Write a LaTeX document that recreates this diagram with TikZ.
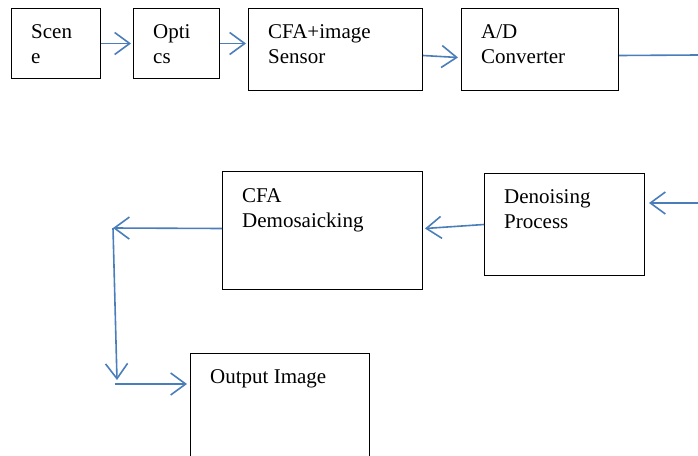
\documentclass[tikz,border=0pt]{standalone}
\usepackage{fontspec}
\setmainfont{Liberation Serif}
\usepackage{xcolor}
\usetikzlibrary{arrows.meta}
\definecolor{flowblue}{RGB}{74,126,187}

\begin{document}
\begin{tikzpicture}[x=1pt,y=-1pt,
		box/.style={draw,line width=1pt,anchor=north west,inner sep=0pt},
		txt/.style={anchor=north west,inner sep=0pt,align=left,font=\fontsize{21}{25}\selectfont},
		flow/.style={draw=flowblue,line width=1.6pt,-{Straight Barb[length=15pt,width=22pt,line width=1.6pt]}},
		link/.style={draw=flowblue,line width=1.6pt}]
		\clip (0,0) rectangle (698,455);
		\node[box,minimum width=89,minimum height=70] (scene) at (11,8) {};
		\node[txt] (sceneT) at ([shift={(20,12.5)}]scene.north west) {\strut Scen\\e};
		\node[box,minimum width=86,minimum height=70] (optics) at (133,8) {};
		\node[txt] (opticsT) at ([shift={(20,12.5)}]optics.north west) {\strut Opti\\cs};
		\node[box,minimum width=174,minimum height=82] (sensor) at (248,8) {};
		\node[txt] (sensorT) at ([shift={(20,12.5)}]sensor.north west) {\strut CFA+image\\Sensor};
		\node[box,minimum width=157,minimum height=82] (adc) at (461,8) {};
		\node[txt] (adcT) at ([shift={(20,12.5)}]adc.north west) {\strut A/D\\Converter};
		\node[box,minimum width=200,minimum height=118] (demosaic) at (222,171) {};
		\node[txt] (demosaicT) at ([shift={(20,13.5)}]demosaic.north west) {\strut CFA\\Demosaicking};
		\node[box,minimum width=160,minimum height=102] (denoise) at (484,173) {};
		\node[txt] (denoiseT) at ([shift={(20,12.5)}]denoise.north west) {\strut Denoising\\Process};
		\node[box,minimum width=179,minimum height=110] (output) at (190,353) {};
		\node[txt] (outputT) at ([shift={(20,12.5)}]output.north west) {\strut Output Image};
		\coordinate (edgeA) at (698,55);
		\coordinate (edgeB) at (698,203);
		\coordinate (bendL) at (113,228);
		\coordinate (bendD) at (117,380);
		\coordinate (startO) at (115,384);
		\draw[flow] (scene.east) -- ([xshift=-2pt]optics.west);
		\draw[flow] (optics.east) -- ([xshift=-2pt]optics.east -| sensor.west);
		\draw[flow] ([shift={(0,6)}]sensor.east) -- ([shift={(-3,8)}]adc.west);
		\draw[link] ([shift={(0,6)}]adc.east) -- (edgeA);
		\draw[flow] (edgeB) -- ([xshift=4pt]edgeB -| denoise.east);
		\draw[flow] (denoise.west) -- ([shift={(2,-2)}]demosaic.east);
		\draw[flow] ([shift={(0,-2)}]demosaic.west) -- (bendL);
		\draw[flow] (bendL) -- (bendD);
		\draw[flow] (startO) -- ([xshift=-3pt]startO -| output.west);
\end{tikzpicture}
\end{document}
